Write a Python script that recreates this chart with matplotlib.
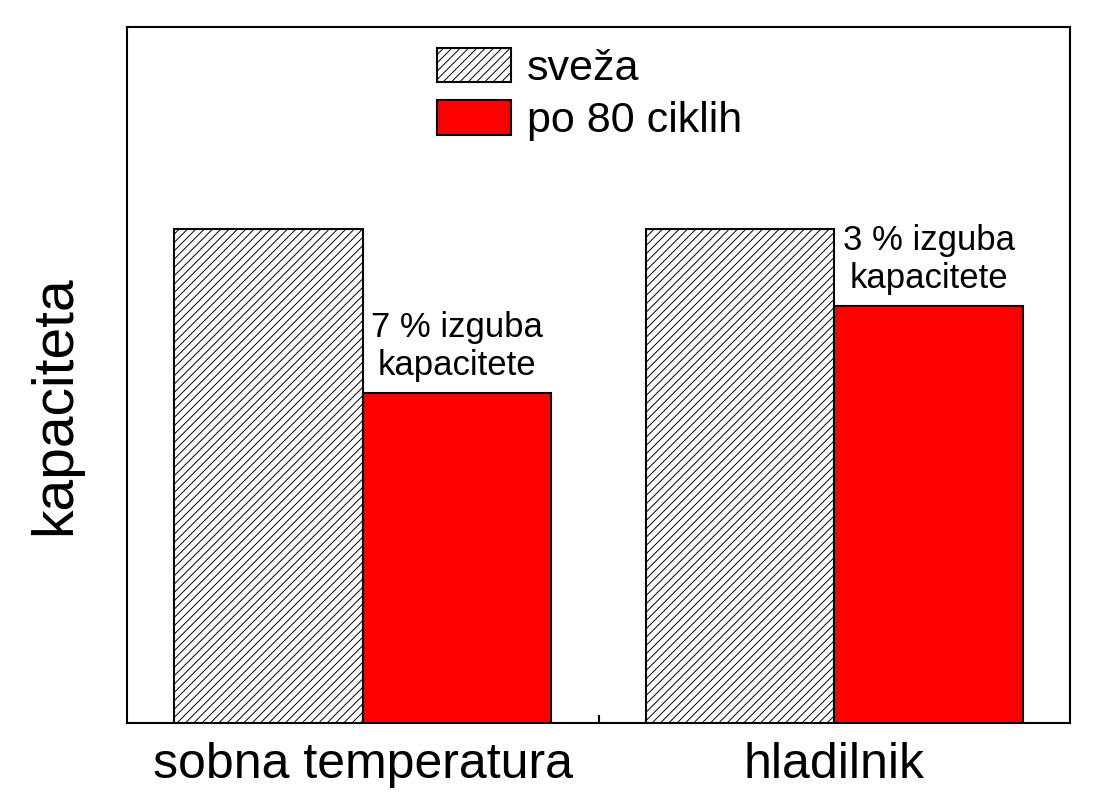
import matplotlib
matplotlib.use("Agg")
import matplotlib.pyplot as plt
import numpy as np

plt.rcParams['font.family'] = ['Liberation Sans', 'DejaVu Sans']
plt.rcParams['hatch.linewidth'] = 0.7

categories = ["sobna temperatura", "hladilnik"]
sveza = [100.0, 100.0]
po_80 = [93.0, 96.7]
notes = ["7 % izguba\nkapacitete", "3 % izguba\nkapacitete"]

fig = plt.figure(figsize=(10.97, 8.08), dpi=100)
ax = fig.add_axes([0.1158, 0.1052, 0.8596, 0.8614])

x = np.arange(len(categories))
w = 0.4
ax.bar(x - w / 2, sveza, w, color="white", edgecolor="black", hatch="////",
       linewidth=1.5, label="sveža")
ax.bar(x + w / 2, po_80, w, color="#ff0000", edgecolor="black",
       linewidth=1.5, label="po 80 ciklih")

for xi, val, txt in zip(x, po_80, notes):
    ax.text(xi + w / 2, val + 0.45, txt, ha="center", va="bottom",
            fontsize=25, linespacing=1.2)

ax.set_xlim(-0.5, 1.5)
ax.set_ylim(78.9, 108.6)
ax.set_xticks(x)
ax.set_xticklabels(categories, fontsize=36)
ax.set_xticks([0.5], minor=True)
ax.tick_params(axis="x", which="major", length=0, pad=14)
ax.tick_params(axis="x", which="minor", direction="in", length=6, width=1.5)
ax.set_yticks([])
ax.set_ylabel("kapaciteta", fontsize=41)
ax.yaxis.set_label_coords(-0.048, 0.456)
for s in ax.spines.values():
    s.set_linewidth(1.5)

ax.legend(loc="upper center", bbox_to_anchor=(0.49, 1.02), frameon=False,
          fontsize=31, handlelength=1.74, handleheight=0.87, handletextpad=0.35,
          borderaxespad=0.4, labelspacing=0.25)

fig.savefig("out.png", dpi=100)
